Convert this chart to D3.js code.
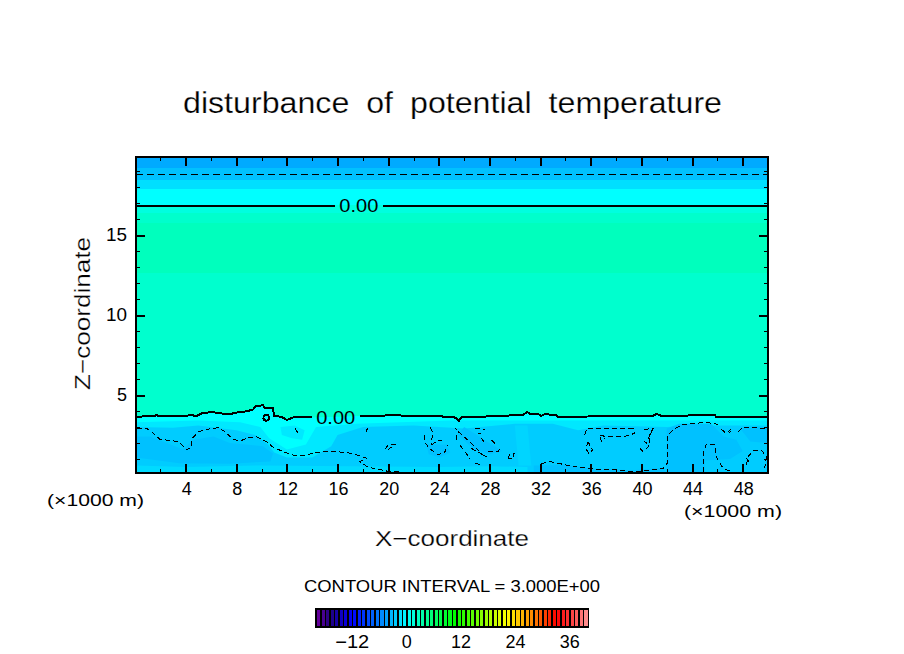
<!DOCTYPE html>
<html lang="en">
<head>
<meta charset="UTF-8">
<title>disturbance of potential temperature</title>
<script src="https://cdn.jsdelivr.net/npm/d3@7/dist/d3.min.js"></script>
<style>
  html, body { margin: 0; padding: 0; background: #fff; }
  svg { display: block; }
  text { font-family: "Liberation Sans", sans-serif; fill: #000; }
  text.big { stroke: #fff; stroke-width: 0.25px; }
</style>
</head>
<body>
<svg id="chart" width="904" height="654"></svg>
<script>
const xDomain = [0.08, 50];
const zDomain = [0.125, 19.875];
const xMajor = [4, 8, 12, 16, 20, 24, 28, 32, 36, 40, 44, 48];
const xMinor = [2, 6, 10, 14, 18, 22, 26, 30, 34, 38, 42, 46, 50];
const zMajor = [5, 10, 15];
const zMinor = [1, 2, 3, 4, 6, 7, 8, 9, 11, 12, 13, 14, 16, 17, 18, 19];
const legendLevels = d3.range(-20, 40);
const legendTicks = [-12, 0, 12, 24, 36];

// flat layers, [bottom, top, value]
const bands = [
  [0.125, 12.625, 2.0], [12.625, 15.75, 2.7], [15.75, 16.37, 2.1], [16.37, 16.87, 1.3],
  [16.87, 17.87, 0], [17.87, 18.44, -1.5], [18.44, 19.19, -2.9], [19.19, 19.875, -4]
];

// zero contour, split where the label sits
const zeroLeft = [[0.08,3.64],[1.58,3.69],[1.71,3.77],[1.84,3.66],[4.08,3.69],[4.34,3.75],[4.87,3.69],[5.26,3.85],[6.05,3.94],[6.71,3.85],[7.5,3.81],[8.29,3.94],[8.82,3.98],[9.34,4.1],[9.55,4.33],[10.13,4.35],[10.26,4.19],[10.92,4.16],[10.97,3.69],[11.58,3.64],[11.97,3.44],[12.5,3.6],[13.95,3.6]];
const zeroRight = [[17.76,3.68],[20.4,3.73],[25.1,3.64],[25.4,3.54],[25.58,3.37],[25.79,3.6],[28.95,3.69],[30.66,3.77],[30.97,3.94],[31.2,3.81],[31.84,3.81],[32.1,3.69],[32.37,3.81],[33.3,3.73],[33.4,3.64],[40.9,3.69],[41.2,3.81],[41.6,3.69],[44.6,3.73],[45.8,3.75],[45.9,3.64],[50,3.64]];
const zeroLoop = [[10.13,3.58],[10.2,3.72],[10.37,3.77],[10.54,3.72],[10.6,3.58],[10.54,3.44],[10.37,3.39],[10.2,3.44],[10.13,3.58]];
const zeroTop = [[[0.08,16.84],[15.79,16.84]], [[19.58,16.84],[50,16.84]]];
const negTop = [[0.08,18.81],[50,18.81]];

// shaded patches below the zero contour, painted in order: [value, polygon]
const patches = [
  [-1.1, [[0.08,3.3],[5,3.4],[8.3,3.3],[9.9,3.0],[10.6,2.3],[12,1.6],[13.5,1.9],[14.3,3.0],[17.5,3.2],[25,3.4],[50,3.4],[50,0.125],[0.08,0.125]]],
  [-1.1, [[11.5,3.0],[12.6,3.1],[13.4,2.8],[13.2,2.2],[12.4,2.3],[11.6,2.5]]],
  [-2.4, [[0.08,3.0],[3,2.95],[5,3.1],[8,2.8],[9.5,2.5],[10.5,1.9],[11,1.4],[12,1.1],[14,1.1],[15.5,1.8],[16,2.5],[18,3.0],[22,3.1],[24,3.0],[26,2.9],[30,3.2],[33,3.2],[35,2.8],[37,3.1],[42,3.0],[44,3.1],[50,3.1],[50,0.125],[0.08,0.125]]],
  [-1.7, [[0.08,0.6],[4,0.5],[10,0.6],[17,0.55],[24,0.5],[28,0.55],[31,0.5],[31,0.125],[0.08,0.125]]],
  [-2.0, [[30,3.1],[31,3.1],[31.3,0.6],[30.3,0.6]]],
  [-2.9, [[0.08,1.5],[0.08,2.4],[1.2,2.4],[2.8,1.9],[3.8,1.6],[4.6,2.2],[6.2,2.4],[7.5,2],[10.1,1.8],[10.9,1.35],[10.7,0.85],[7.5,0.7],[3.5,0.73],[0.08,1.1]]],
  [-2.9, [[23,1.9],[24.6,1.9],[24.9,1.4],[24.1,1.1],[23.2,1.3]]],
  [-2.9, [[26,3],[27,2.5],[29,1.5],[28,1.3],[26.8,1.6],[25.5,2.5]]],
  [-2.9, [[31.5,0.6],[34,0.62],[36,0.4],[39.3,0.3],[41.7,0.45],[42,0.125],[31.5,0.125]]],
  [-2.9, [[42,2.9],[43,3.2],[45.5,3.2],[46.5,2.4],[47.5,2.2],[48,1.5],[47,1],[45,0.9],[45,0.125],[42,0.125]]],
  [-2.9, [[47.8,2.9],[50,3.0],[50,2.0],[48.6,2.1]]]
];

const dashed = [
  [[0.13,2.91],[0.92,2.91],[1.31,2.71],[1.97,2.23],[3.16,2.12],[3.55,2.02],[4.08,1.6],[4.4,1.66],[4.53,2.29],[5,2.71],[5.79,2.87],[6.58,2.96],[7.1,2.71],[7.76,2.23],[8.29,2.12],[8.95,2.33],[9.6,2.39],[10.4,2.08],[10.92,1.73],[11.71,1.46],[12.5,1.25],[13.55,1.25],[14.34,1.41],[15.4,1.48],[16.71,1.41],[17.76,1.2],[18.29,1.04],[17.76,0.83],[18.42,0.48],[19.87,0.25],[20.92,0.25]],
  [[12.68,2.91],[12.77,2.71],[12.9,2.66]],
  [[18.34,2.91],[18.29,2.66]],
  [[19.74,1.62],[20,1.87],[20.8,1.91]],
  [[20,1.6],[20.4,1.81]],
  [[23.29,2.98],[23.5,2.7],[23.42,1.87]],
  [[22.9,2.5],[22.9,2],[23.42,1.56],[23.95,1.25],[24.5,1.46],[24.66,1.87]],
  [[23.42,1.87],[23.95,2.19],[24.5,2.08]],
  [[25.26,2.96],[25.4,2.81]],
  [[25.37,2.5],[25.4,2.08]],
  [[25.53,2.71],[26.58,1.98],[27.5,1.25],[27.9,1.04]],
  [[25.66,1.87],[26.45,1.04]],
  [[26.84,0.73],[27.5,0.62]],
  [[26.58,1.66],[27.76,1.14]],
  [[27.9,1.5],[28.7,1.5],[28.95,1.77]],
  [[28.16,2.19],[28.55,1.87]],
  [[27.37,2.29],[27.76,1.87]],
  [[26.84,2.91],[27.63,2.85]],
  [[27.1,2.6],[27.37,2.6]],
  [[29.48,1.04],[29.6,1.35],[29.95,1.35],[29.87,1.04],[29.48,1.04]],
  [[32.03,0.2],[32.1,0.68],[32.63,0.87],[34.08,0.62],[35.92,0.41],[36.45,0.35],[38.03,0.31],[39.34,0.2],[40.66,0.31],[41.71,0.41],[42.03,0.73],[42.03,2.39],[42.5,2.85],[43.29,3.16],[45.13,3.29],[46.05,3.16]],
  [[35.53,2.5],[35.66,2.85],[35.92,2.91],[38.03,2.91],[39.34,2.91],[39.47,2.6],[38.55,2.39],[37.24,2.39],[36.71,2.5],[36.84,2.08],[37.1,2.29]],
  [[40.19,2.85],[40.92,2.91],[40.66,2.5],[40.4,1.98],[40.13,2.19]],
  [[39.87,1.66],[40.13,1.46],[40.53,1.77],[40.79,2.71]],
  [[35.79,2.08],[35.6,1.66],[35.87,1.31],[36.13,1.56],[35.79,2.08]],
  [[44.87,0.2],[44.87,1.35],[45.13,1.91],[45.79,1.91],[45.92,1.14],[46.45,0.41],[46.97,0.25]],
  [[46.32,2.85],[46.71,2.6],[47.11,2.91],[46.97,2.6]],
  [[47.63,2.71],[48.03,2.98],[50,2.91]],
  [[48.29,0.62],[48.42,1.14],[48.82,1.52],[49.47,1.56],[49.87,1.14],[49.74,0.41]],
  [[48.29,1.04],[48.68,0.62]]
];

const svg = d3.select("#chart");
const x = d3.scaleLinear().domain(xDomain).range([136, 768]);
const z = d3.scaleLinear().domain(zDomain).range([473, 157]);
const color = d3.scaleLinear()
  .domain([-20, -17, -12, 0, 10.5, 22, 28, 33, 36, 40])
  .range(["#7000a0", "#200080", "#0000ff", "#00ffff", "#00ff00", "#ffff00", "#ff8000", "#ff0000", "#ff3838", "#ff9898"]);
const line = d3.line().x(d => x(d[0])).y(d => z(d[1]));

const field = svg.append("g");
field.selectAll("rect").data(bands).join("rect")
  .attr("x", x(xDomain[0])).attr("width", x(xDomain[1]) - x(xDomain[0]))
  .attr("y", d => z(d[1])).attr("height", d => z(d[0]) - z(d[1]))
  .attr("fill", d => color(d[2])).attr("shape-rendering", "crispEdges");

// cyan under the zero contour
const zeroAll = zeroLeft.concat(zeroRight);
field.append("path")
  .attr("d", line(zeroAll.concat([[xDomain[1], zDomain[0]], [xDomain[0], zDomain[0]]])) + "Z")
  .attr("fill", color(0));
field.selectAll("path.patch").data(patches).join("path")
  .attr("class", "patch")
  .attr("d", d => line(d[1]) + "Z")
  .attr("fill", d => color(d[0]));

const contours = svg.append("g").attr("fill", "none").attr("stroke", "#000").attr("shape-rendering", "crispEdges");
contours.selectAll("path.solid").data([zeroLeft, zeroRight, zeroLoop].concat(zeroTop)).join("path")
  .attr("class", "solid").attr("d", line).attr("stroke-width", 2);
contours.append("path").attr("d", line(negTop)).attr("stroke-width", 1).attr("stroke-dasharray", "7,4");
contours.selectAll("path.neg").data(dashed).join("path")
  .attr("class", "neg").attr("d", line).attr("stroke-width", 1).attr("stroke-dasharray", "5,3");

// text is stretched to the measured widths, the original font runs wide
const label = (px, py, str, size, len, anchor) => svg.append("text")
  .attr("x", px).attr("y", py).attr("font-size", size)
  .attr("text-anchor", anchor || "middle")
  .attr("textLength", len).attr("lengthAdjust", "spacingAndGlyphs").text(str);
label((x(15.79) + x(19.58)) / 2, z(16.84) + 6, "0.00", 18, 39);
label((x(13.95) + x(17.76)) / 2, z(3.6) + 7, "0.00", 18, 39);

// ticks on all four sides, pointing inwards
const tickAxis = (gen, vals, size, width, tx, ty) => {
  const g = svg.append("g").attr("transform", `translate(${tx},${ty})`)
    .call(gen.tickValues(vals).tickSize(size).tickFormat(""));
  g.select(".domain").remove();
  g.selectAll("line").attr("stroke", "#000").attr("stroke-width", width).attr("shape-rendering", "crispEdges");
};
tickAxis(d3.axisBottom(x), xMajor, -9, 2, 0, 473);
tickAxis(d3.axisBottom(x), xMinor, -4, 1, 0, 473);
tickAxis(d3.axisTop(x), xMajor, -9, 2, 0, 157);
tickAxis(d3.axisTop(x), xMinor, -4, 1, 0, 157);
tickAxis(d3.axisLeft(z), zMajor, -9, 2, 136, 0);
tickAxis(d3.axisLeft(z), zMinor, -4, 1, 136, 0);
tickAxis(d3.axisRight(z), zMajor, -9, 2, 768, 0);
tickAxis(d3.axisRight(z), zMinor, -4, 1, 768, 0);

svg.append("rect").attr("x", 136).attr("y", 157).attr("width", 632).attr("height", 316)
  .attr("fill", "none").attr("stroke", "#000").attr("stroke-width", 2).attr("shape-rendering", "crispEdges");

xMajor.forEach(v => label(x(v) + 1, 495, String(v), 18, v < 10 ? 10 : 20));
zMajor.forEach(v => label(127, z(v) + 6, String(v), 18, v < 10 ? 10 : 21, "end"));

label(452.5, 113, "disturbance of potential temperature", 29, 539)
  .attr("class", "big").attr("word-spacing", "0.25em");
label(452, 546, "X\u2212coordinate", 22, 154).attr("class", "big");
svg.append("text").attr("class", "big").attr("transform", "translate(90,313.5) rotate(-90)")
  .attr("text-anchor", "middle").attr("font-size", 22)
  .attr("textLength", 153).attr("lengthAdjust", "spacingAndGlyphs").text("Z\u2212coordinate");
label(95.5, 506, "(\u00d71000 m)", 17, 97);
label(733, 517, "(\u00d71000 m)", 17, 98);
label(452, 592, "CONTOUR INTERVAL = 3.000E+00", 17, 296);

// legend
const lx = d3.scaleLinear().domain([-20, 40]).range([316, 588]);
svg.append("rect").attr("x", 315).attr("y", 608).attr("width", 274).attr("height", 20).attr("fill", "#000");
svg.append("g").selectAll("rect").data(legendLevels).join("rect")
  .attr("x", d => lx(d) + 1).attr("y", 610)
  .attr("width", lx(1) - lx(0) - 1.5).attr("height", 16)
  .attr("fill", d => color(d + 0.5)).attr("shape-rendering", "crispEdges");
legendTicks.forEach(v => label(lx(v), 648, v < 0 ? "\u2212" + Math.abs(v) : String(v), 18, v < 0 ? 34 : (v === 0 ? 10 : 20)));
</script>
</body>
</html>
